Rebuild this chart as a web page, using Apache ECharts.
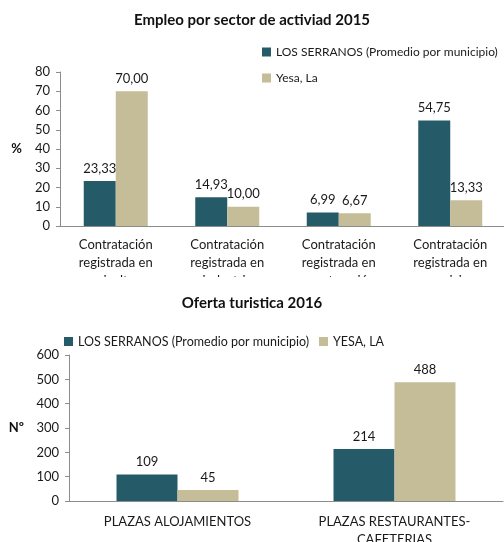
<!DOCTYPE html>
<html>
<head>
<meta charset="utf-8">
<script src="https://cdn.jsdelivr.net/npm/echarts@6/dist/echarts.min.js"></script>
<style>
  html, body { margin: 0; padding: 0; background: #fff; }
  #empleo { position: absolute; left: 0; top: 0; width: 504px; height: 277px; }
  #oferta { position: absolute; left: 0; top: 280px; width: 504px; height: 262px; }
</style>
</head>
<body>
<div id="empleo"></div>
<div id="oferta"></div>
<script>
const FONT = 'Lato, "Open Sans", sans-serif'
const DARK = '#255b69'
const LIGHT = '#c4bd97'
const AXIS = '#8c8c8c'

// Empleo por sector de actividad 2015
const empleoCats = [
  'Contratación\nregistrada en\nagricultura',
  'Contratación\nregistrada en\nindustria',
  'Contratación\nregistrada en\nconstrucción',
  'Contratación\nregistrada en\nservicios',
]
const empleoSerranos = [23.33, 14.93, 6.99, 54.75]
const empleoYesa = [70.0, 10.0, 6.67, 13.33]
const empleoTicks = [0, 10, 20, 30, 40, 50, 60, 70, 80]

// Oferta turistica 2016
const ofertaCats = ['PLAZAS ALOJAMIENTOS', 'PLAZAS RESTAURANTES-\nCAFETERIAS']
const ofertaSerranos = [109, 214]
const ofertaYesa = [45, 488]
const ofertaTicks = [0, 100, 200, 300, 400, 500, 600]

const comma = (v) => v.toFixed(2).replace('.', ',')

const barLabel = (fmt) => ({
  show: true,
  position: 'top',
  distance: 6,
  color: '#1a1a1a',
  fontSize: 13,
  fontFamily: FONT,
  formatter: (p) => fmt(p.value),
})

const empleoChart = echarts.init(document.getElementById('empleo'))
empleoChart.setOption({
  animation: false,
  textStyle: { fontFamily: FONT },
  title: {
    text: 'Empleo por sector de activiad 2015',
    left: 'center',
    top: 8,
    textStyle: { fontSize: 15, fontWeight: 'bold', color: '#111', fontFamily: FONT },
  },
  legend: {
    orient: 'vertical',
    left: 257,
    top: 41,
    itemWidth: 9,
    itemHeight: 9,
    itemGap: 14,
    icon: 'rect',
    textStyle: { fontSize: 12, color: '#1a1a1a', fontFamily: FONT },
    data: ['LOS SERRANOS (Promedio por municipio)', 'Yesa, La'],
  },
  grid: { left: 60, top: 72, width: 446, height: 154, outerBoundsMode: 'none', containLabel: false },
  xAxis: {
    type: 'category',
    data: empleoCats,
    axisLine: { lineStyle: { color: AXIS } },
    axisTick: { lineStyle: { color: AXIS }, length: 5 },
    axisLabel: { color: '#1a1a1a', fontSize: 13, lineHeight: 18, margin: 10, interval: 0, fontFamily: FONT },
  },
  yAxis: {
    type: 'value',
    min: empleoTicks[0],
    max: empleoTicks[empleoTicks.length - 1],
    interval: 10,
    name: '%',
    nameLocation: 'middle',
    nameRotate: 0,
    nameGap: 38,
    nameTextStyle: { fontWeight: 'bold', fontSize: 13, color: '#111', fontFamily: FONT },
    axisLine: { show: true, lineStyle: { color: AXIS } },
    axisTick: { show: true, lineStyle: { color: AXIS }, length: 4 },
    splitLine: { show: false },
    axisLabel: { color: '#1a1a1a', fontSize: 13, margin: 10, fontFamily: FONT },
  },
  series: [
    {
      name: 'LOS SERRANOS (Promedio por municipio)',
      type: 'bar',
      data: empleoSerranos,
      barWidth: 32,
      barGap: '0%',
      itemStyle: { color: DARK },
      label: barLabel(comma),
    },
    {
      name: 'Yesa, La',
      type: 'bar',
      data: empleoYesa,
      barWidth: 32,
      itemStyle: { color: LIGHT },
      label: barLabel(comma),
    },
  ],
})

const ofertaChart = echarts.init(document.getElementById('oferta'))
ofertaChart.setOption({
  animation: false,
  textStyle: { fontFamily: FONT },
  title: {
    text: 'Oferta turistica 2016',
    left: 'center',
    top: 11,
    textStyle: { fontSize: 15, fontWeight: 'bold', color: '#111', fontFamily: FONT },
  },
  legend: {
    left: 59,
    top: 50,
    itemWidth: 9,
    itemHeight: 9,
    itemGap: 10,
    icon: 'rect',
    textStyle: { fontSize: 12.5, color: '#1a1a1a', fontFamily: FONT },
    data: ['LOS SERRANOS (Promedio por municipio)', 'YESA, LA'],
  },
  grid: { left: 69, top: 75, width: 434, height: 146, outerBoundsMode: 'none', containLabel: false },
  xAxis: {
    type: 'category',
    data: ofertaCats,
    axisLine: { lineStyle: { color: AXIS } },
    axisTick: { lineStyle: { color: AXIS }, length: 5 },
    axisLabel: { color: '#1a1a1a', fontSize: 13, lineHeight: 18, margin: 12, interval: 0, fontFamily: FONT },
  },
  yAxis: {
    type: 'value',
    min: ofertaTicks[0],
    max: ofertaTicks[ofertaTicks.length - 1],
    interval: 100,
    name: 'Nº',
    nameLocation: 'middle',
    nameRotate: 0,
    nameGap: 45,
    nameTextStyle: { fontWeight: 'bold', fontSize: 13, color: '#111', fontFamily: FONT },
    axisLine: { show: true, lineStyle: { color: AXIS } },
    axisTick: { show: true, lineStyle: { color: AXIS }, length: 4 },
    splitLine: { show: false },
    axisLabel: { color: '#1a1a1a', fontSize: 13, margin: 10, fontFamily: FONT },
  },
  series: [
    {
      name: 'LOS SERRANOS (Promedio por municipio)',
      type: 'bar',
      data: ofertaSerranos,
      barWidth: 61,
      barGap: '0%',
      itemStyle: { color: DARK },
      label: barLabel((v) => String(v)),
    },
    {
      name: 'YESA, LA',
      type: 'bar',
      data: ofertaYesa,
      barWidth: 61,
      itemStyle: { color: LIGHT },
      label: barLabel((v) => String(v)),
    },
  ],
})
</script>
</body>
</html>
